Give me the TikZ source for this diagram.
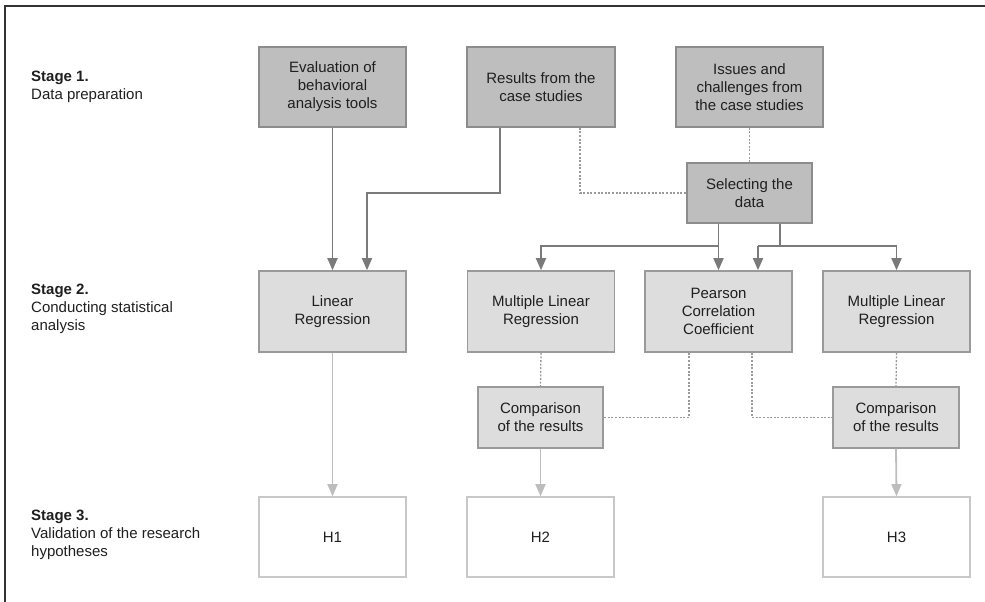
\documentclass[tikz,border=0pt]{standalone}
\usepackage{fontspec}
\setmainfont{Liberation Sans}
\usetikzlibrary{arrows.meta}
\definecolor{darkfill}{HTML}{BEBEBE}
\definecolor{darkline}{HTML}{8C8C8C}
\definecolor{lightfill}{HTML}{DDDDDD}
\definecolor{lightline}{HTML}{9A9A9A}
\definecolor{whiteline}{HTML}{C8C8C8}
\definecolor{darrow}{HTML}{7A7A7A}
\definecolor{larrow}{HTML}{BDBDBD}
\definecolor{dotc}{HTML}{9A9A9A}
\definecolor{framec}{HTML}{333333}
\tikzset{
  base/.style={rectangle, align=center, inner sep=0pt, font=\fontsize{15}{18}\selectfont, text=black!88, line width=1.6pt},
  darkbox/.style={base, fill=darkfill, draw=darkline},
  lightbox/.style={base, fill=lightfill, draw=lightline},
  hbox/.style={base, fill=white, draw=whiteline},
  big/.style={minimum width=147pt, minimum height=80pt},
  small/.style={minimum width=125pt, minimum height=61pt},
  darr/.style={draw=darrow, line width=1.8pt, -{Triangle[width=10pt,length=12pt]}},
  dline/.style={draw=darrow, line width=1.8pt},
  larr/.style={draw=larrow, line width=1.8pt, -{Triangle[width=10pt,length=12pt]}},
  dotl/.style={draw=dotc, line width=1.3pt, dash pattern=on 2pt off 1.6pt},
  stagelbl/.style={anchor=north west, align=left, inner sep=0pt, font=\fontsize{15}{18}\selectfont, text=black!88}
}
\begin{document}
\begin{tikzpicture}[x=1pt, y=-1pt]
\useasboundingbox (0,0) rectangle (985,602);
\draw[framec, line width=1.6pt] (5,602) -- (5,6) -- (985,6);

% stage labels
\node[stagelbl] (s1) at (31,71) {\textbf{Stage 1.}\\Data preparation};
\node[stagelbl] (s2) at (31,284) {\textbf{Stage 2.}\\Conducting statistical\\analysis};
\node[stagelbl] (s3) at (31,510) {\textbf{Stage 3.}\\Validation of the research\\hypotheses};

% stage 1
\node[darkbox, big] (eval) at (332.5,87) {Evaluation of\\behavioral\\analysis tools};
\node[darkbox, big, minimum width=148pt] (results) at (541,87) {Results from the\\case studies};
\node[darkbox, big] (issues) at (749.5,87) {Issues and\\challenges from\\the case studies};
\node[darkbox, minimum width=125pt, minimum height=60pt] (sel) at (749.5,193) {Selecting the\\data};

% stage 2
\node[lightbox, big, minimum height=81pt] (linreg) at (332.5,311.5) {Linear\\Regression};
\node[lightbox, big, minimum height=81pt] (mlr1) at (541,311.5) {Multiple Linear\\Regression};
\node[lightbox, big, minimum height=81pt] (pearson) at (718.5,311.5) {Pearson\\Correlation\\Coefficient};
\node[lightbox, big, minimum height=81pt] (mlr2) at (896.5,311.5) {Multiple Linear\\Regression};
\node[lightbox, small] (comp1) at (540.5,417.5) {Comparison\\of the results};
\node[lightbox, small, minimum width=126pt] (comp2) at (896,417.5) {Comparison\\of the results};

% stage 3
\node[hbox, big] (h1) at (332.5,537) {H1};
\node[hbox, big] (h2) at (540.5,537) {H2};
\node[hbox, big] (h3) at (896.5,537) {H3};

% helper coordinates
\coordinate (jl) at (367,193);
\coordinate (bus) at (0,246);
\coordinate (rs) at ([xshift=-41pt]results.south);
\coordinate (rd) at ([xshift=39pt]results.south);
\coordinate (s2p) at ([xshift=30.5pt]sel.south);
\coordinate (p2) at ([xshift=39.5pt]pearson.north);
\coordinate (pd1) at ([xshift=-29.5pt]pearson.south);
\coordinate (pd2) at ([xshift=33.5pt]pearson.south);

% solid dark connectors
\draw[darr] (eval.south) -- (linreg.north);
\draw[darr] (rs) |- (jl) -- (jl |- linreg.north);
\draw[darr] (sel.south -| pearson) -- (pearson.north);
\draw[darr] (pearson |- bus) -| (mlr1.north);
\draw[dline] (s2p) -- (s2p |- bus);
\draw[darr] (p2 |- bus) -- (p2);
\draw[darr] (p2 |- bus) -| (mlr2.north);

% dotted connectors
\draw[dotl] (rd) |- (sel.west);
\draw[dotl] (issues.south) -- (sel.north);
\draw[dotl] (mlr1.south) -- (comp1.north);
\draw[dotl] (pd1) |- (comp1.east);
\draw[dotl] (pd2) |- (comp2.west);
\draw[dotl] (mlr2.south) -- (comp2.north);

% light arrows
\draw[larr] (linreg.south) -- (h1.north);
\draw[larr] (comp1.south) -- (h2.north);
\draw[larr] (comp2.south) -- (h3.north);
\end{tikzpicture}
\end{document}
